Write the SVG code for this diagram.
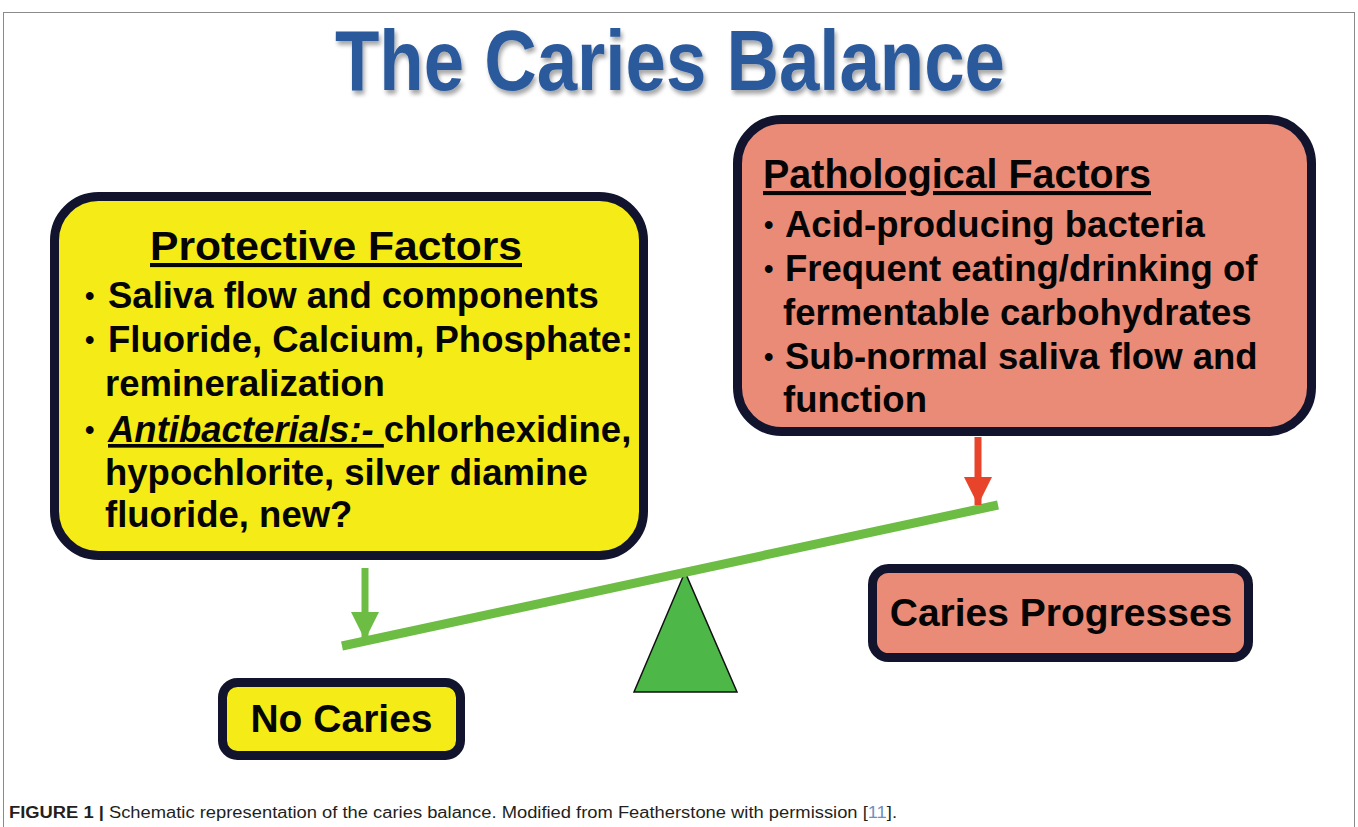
<svg xmlns="http://www.w3.org/2000/svg" width="1358" height="827" viewBox="0 0 1358 827">
  <defs>
    <style>
      .t { font-family: "Liberation Sans", Arial, Helvetica, sans-serif; font-weight: bold; fill: #050505; }
      .head { font-size: 41px; text-decoration: underline; }
      .item { font-size: 36.5px; }
      .bul { font-size: 27px; }
      .lab { font-size: 39px; }
      .box { stroke: #12142e; stroke-width: 9; }
      .yel { fill: #f4eb17; }
      .sal { fill: #e98b77; }
      .cap { font-family: "Liberation Sans", Arial, Helvetica, sans-serif; font-size: 16px; fill: #231f20; }
    </style>
    <filter id="sh" x="-5%" y="-20%" width="110%" height="150%">
      <feGaussianBlur in="SourceAlpha" stdDeviation="2"/>
      <feOffset dx="2" dy="4" result="b"/>
      <feComponentTransfer><feFuncA type="linear" slope="0.35"/></feComponentTransfer>
      <feMerge><feMergeNode/><feMergeNode in="SourceGraphic"/></feMerge>
    </filter>
    <marker id="ahG" markerUnits="userSpaceOnUse" markerWidth="28" markerHeight="30" refX="28" refY="14" orient="auto">
      <path d="M0,0 L28,14 L0,28 Z" fill="#6dbd45"/>
    </marker>
    <marker id="ahR" markerUnits="userSpaceOnUse" markerWidth="28" markerHeight="30" refX="28" refY="14" orient="auto">
      <path d="M0,0 L28,14 L0,28 Z" fill="#e8432b"/>
    </marker>
  </defs>

  <rect x="3.5" y="12.5" width="1351" height="860" fill="#ffffff" stroke="#8a8a8a" stroke-width="1"/>

  <g id="title">
    <text x="335" y="90" font-family="Liberation Sans, Arial, sans-serif" font-weight="bold" font-size="86" fill="#2c5a9c" textLength="670" lengthAdjust="spacingAndGlyphs" filter="url(#sh)">The Caries Balance</text>
  </g>

  <g id="protective">
    <rect class="box yel" x="54.5" y="196.5" width="589" height="359" rx="44"/>
    <text class="t head" x="150" y="260" textLength="372" lengthAdjust="spacingAndGlyphs">Protective Factors</text>
    <text class="t bul" x="85" y="305">•</text>
    <text class="t item" x="108" y="308">Saliva flow and components</text>
    <text class="t bul" x="85" y="349">•</text>
    <text class="t item" x="108" y="352">Fluoride, Calcium, Phosphate:</text>
    <text class="t item" x="105" y="396">remineralization</text>
    <text class="t bul" x="85" y="439">•</text>
    <text class="t item" x="108" y="442"><tspan font-style="italic" text-decoration="underline">Antibacterials:- </tspan>chlorhexidine,</text>
    <text class="t item" x="105" y="485">hypochlorite, silver diamine</text>
    <text class="t item" x="105" y="527">fluoride, new?</text>
  </g>

  <g id="pathological">
    <rect class="box sal" x="737.5" y="119.5" width="574" height="312" rx="44"/>
    <text class="t head" x="763" y="188" textLength="388" lengthAdjust="spacingAndGlyphs">Pathological Factors</text>
    <text class="t bul" x="764" y="234">•</text>
    <text class="t item" x="785" y="237">Acid-producing bacteria</text>
    <text class="t bul" x="764" y="278">•</text>
    <text class="t item" x="785" y="281">Frequent eating/drinking of</text>
    <text class="t item" x="783" y="325">fermentable carbohydrates</text>
    <text class="t bul" x="764" y="366">•</text>
    <text class="t item" x="785" y="369">Sub-normal saliva flow and</text>
    <text class="t item" x="783" y="412">function</text>
  </g>

  <g id="no-caries">
    <rect class="box yel" x="222.5" y="682.5" width="238" height="73" rx="15"/>
    <text class="t lab" x="341.5" y="732" text-anchor="middle">No Caries</text>
  </g>

  <g id="caries-progresses">
    <rect class="box sal" x="872.5" y="568.5" width="376" height="89" rx="16"/>
    <text class="t lab" x="1061" y="626" text-anchor="middle">Caries Progresses</text>
  </g>

  <g id="fulcrum">
    <polygon points="685,572 634,692 737,692" fill="#4db848" stroke="#111" stroke-width="1.5"/>
  </g>

  <g id="connectors">
    <line x1="342" y1="646" x2="998" y2="505" stroke="#6dbd45" stroke-width="9"/>
    <line x1="365" y1="568" x2="365" y2="640" stroke="#6dbd45" stroke-width="7" marker-end="url(#ahG)"/>
    <line x1="978" y1="437" x2="978" y2="505" stroke="#e8432b" stroke-width="7" marker-end="url(#ahR)"/>
  </g>

  <g id="caption">
    <text class="cap" x="9" y="818" textLength="888" lengthAdjust="spacingAndGlyphs"><tspan font-weight="bold">FIGURE 1 |</tspan> Schematic representation of the caries balance. Modified from Featherstone with permission [<tspan fill="#6e8fbf">11</tspan>].</text>
  </g>
</svg>
